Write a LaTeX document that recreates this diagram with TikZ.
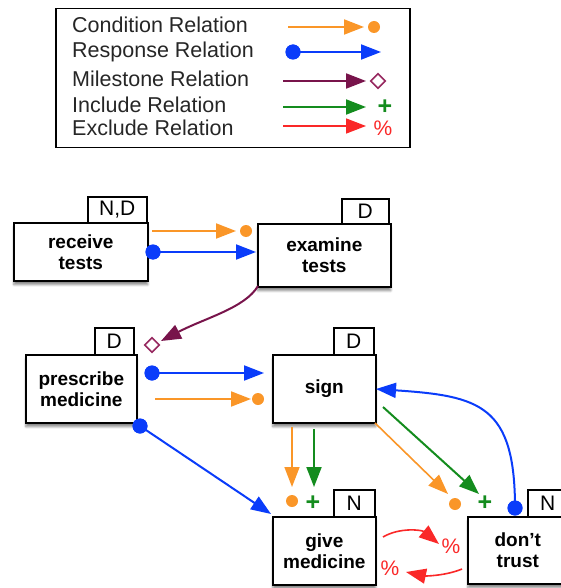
\documentclass[tikz,border=0pt]{standalone}
\usepackage{fontspec}
\setmainfont{Liberation Sans}
\usetikzlibrary{arrows.meta,shapes.geometric,shadows.blur}
\definecolor{corange}{RGB}{250,150,40}
\definecolor{cblue}{RGB}{10,60,250}
\definecolor{cpurple}{RGB}{120,20,75}
\definecolor{cdiam}{RGB}{150,40,95}
\definecolor{cgreen}{RGB}{20,140,30}
\definecolor{cred}{RGB}{250,40,40}
\tikzset{
  evbox/.style={draw, line width=1.6pt, fill=white, anchor=north west, inner sep=0pt,
    align=center, font=\bfseries\fontsize{19}{21}\selectfont,
    blur shadow={shadow xshift=0pt, shadow yshift=-4pt, shadow blur steps=6, shadow opacity=45}},
  tagbox/.style={draw, line width=1.6pt, fill=white, anchor=north west, inner sep=0pt,
    font=\fontsize{21}{21}\selectfont},
  legtext/.style={anchor=base west, inner sep=0pt, font=\fontsize{21.5}{22}\selectfont, text=black!85},
  arr/.style={-{Triangle[length=20pt,width=15pt]}, line width=2pt},
  odot/.style={circle, fill=corange, inner sep=0pt, minimum size=12pt},
  bdot/.style={circle, fill=cblue, inner sep=0pt, minimum size=15pt},
  mdiam/.style={diamond, draw=cdiam, line width=1.6pt, fill=white, inner sep=0pt, minimum width=15pt, minimum height=15pt},
  plusm/.style={inner sep=0pt, text=cgreen, font=\bfseries\fontsize{25}{25}\selectfont},
  pctm/.style={inner sep=0pt, text=cred, font=\fontsize{21}{21}\selectfont},
}
\begin{document}
\begin{tikzpicture}[x=1pt,y=-1pt]
\useasboundingbox (0,0) rectangle (560,588);
% legend
\node[draw, line width=1.5pt, anchor=north west, minimum width=354pt, minimum height=139pt, inner sep=0pt] (legend) at (55,8) {};
\node[legtext] (l1) at (72,33) {Condition Relation};
\node[legtext] (l2) at (72,58) {Response Relation};
\node[legtext] (l3) at (72,87) {Milestone Relation};
\node[legtext] (l4) at (72,113) {Include Relation};
\node[legtext] (l5) at (72,136) {Exclude Relation};
% legend samples
\coordinate (s1a) at (288,27); \coordinate (s1b) at (364,27);
\node[odot] (s1d) at (374,27) {};
\draw[arr, corange] (s1a) -- (s1b);
\node[bdot] (s2d) at (293,52) {};
\coordinate (s2b) at (381,52);
\draw[arr, cblue] (s2d.center) -- (s2b);
\node[bdot] at (293,52) {};
\coordinate (s3a) at (283,81); \coordinate (s3b) at (366,81);
\draw[arr, cpurple] (s3a) -- (s3b);
\node[mdiam] (s3m) at (378,81) {};
\coordinate (s4a) at (283,107); \coordinate (s4b) at (366,107);
\draw[arr, cgreen] (s4a) -- (s4b);
\node[plusm] (s4m) at (385,107) {+};
\coordinate (s5a) at (283,126); \coordinate (s5b) at (366,126);
\draw[arr, cred, line width=1.6pt] (s5a) -- (s5b);
\node[pctm] (s5m) at (383,128) {\%};
% tags
\node[tagbox, minimum width=59pt, minimum height=26pt] (rtt) at (87,196) {N,D};
\node[tagbox, minimum width=47pt, minimum height=25pt] (ett) at (341,198) {D};
\node[tagbox, minimum width=39pt, minimum height=27pt] (pmt) at (94,327) {D};
\node[tagbox, minimum width=40pt, minimum height=27pt] (sgt) at (333,327) {D};
\node[tagbox, minimum width=41pt, minimum height=27pt] (gmt) at (333,489) {N};
\node[tagbox, minimum width=40pt, minimum height=27pt] (dtt) at (527,489) {N};
% boxes
\node[evbox, minimum width=134pt, minimum height=58pt] (rt) at (13,222) {receive\\tests};
\node[evbox, minimum width=133pt, minimum height=63pt] (et) at (257,223) {examine\\tests};
\node[evbox, minimum width=111pt, minimum height=68pt] (pm) at (25,354) {prescribe\\medicine};
\node[evbox, minimum width=103pt, minimum height=68pt] (sg) at (272,354) {sign};
\node[evbox, minimum width=103pt, minimum height=68pt] (gm) at (272,516) {give\\medicine};
\node[evbox, minimum width=100pt, minimum height=67pt] (dt) at (467,516) {don't\\trust};
% receive tests -> examine tests
\coordinate (c1a) at (152,231); \coordinate (c1b) at (236,231);
\draw[arr, corange] (c1a) -- (c1b);
\node[odot] (c1d) at (246,231) {};
\node[bdot] (r1d) at (153,252) {};
\coordinate (r1b) at (256,252);
\draw[arr, cblue] (r1d.center) -- (r1b);
\node[bdot] at (153,252) {};
% examine tests -> prescribe medicine milestone
\coordinate (m1a) at (258,286); \coordinate (m1b) at (161,341);
\draw[arr, cpurple] (m1a) .. controls (245,308) and (205,318) .. (m1b);
\node[mdiam] (m1m) at (152,345) {};
% prescribe -> sign
\node[bdot] (r2d) at (152,373) {};
\coordinate (r2b) at (264,373);
\draw[arr, cblue] (r2d.center) -- (r2b);
\node[bdot] at (152,373) {};
\coordinate (c2a) at (155,399); \coordinate (c2b) at (251,399);
\draw[arr, corange] (c2a) -- (c2b);
\node[odot] (c2d) at (258,399) {};
% prescribe -> give medicine
\node[bdot] (r3d) at (140,426) {};
\coordinate (r3b) at (271,514);
\draw[arr, cblue] (r3d.center) -- (r3b);
\node[bdot] at (140,426) {};
% sign -> give medicine
\coordinate (c3a) at (292,427); \coordinate (c3b) at (292,487);
\draw[arr, corange, line width=1.6pt] (c3a) -- (c3b);
\node[odot] (c3d) at (292,501) {};
\coordinate (i1a) at (314,429); \coordinate (i1b) at (314,487);
\draw[arr, cgreen] (i1a) -- (i1b);
\node[plusm] (i1m) at (313,503) {+};
% sign -> don't trust
\coordinate (c4a) at (375,423); \coordinate (c4b) at (448,494);
\draw[arr, corange, line width=1.6pt] (c4a) -- (c4b);
\node[odot] (c4d) at (455,504) {};
\coordinate (i2a) at (383,407); \coordinate (i2b) at (479,494);
\draw[arr, cgreen] (i2a) -- (i2b);
\node[plusm] (i2m) at (485,503) {+};
% don't trust -> sign response
\node[bdot] (r4d) at (515,508) {};
\coordinate (r4b) at (376,389);
\draw[arr, cblue] (r4d.center) .. controls (515,405) and (480,396) .. (r4b);
\node[bdot] at (515,508) {};
% exclusions
\coordinate (e1a) at (383,537); \coordinate (e1b) at (439,544);
\draw[arr, cred, line width=1.6pt] (e1a) .. controls (400,527) and (422,530) .. (e1b);
\node[pctm] (e1m) at (451,546) {\%};
\coordinate (e2a) at (462,569); \coordinate (e2b) at (406,572);
\draw[arr, cred, line width=1.6pt] (e2a) .. controls (445,576) and (425,576) .. (e2b);
\node[pctm] (e2m) at (390,568) {\%};
\end{tikzpicture}
\end{document}
